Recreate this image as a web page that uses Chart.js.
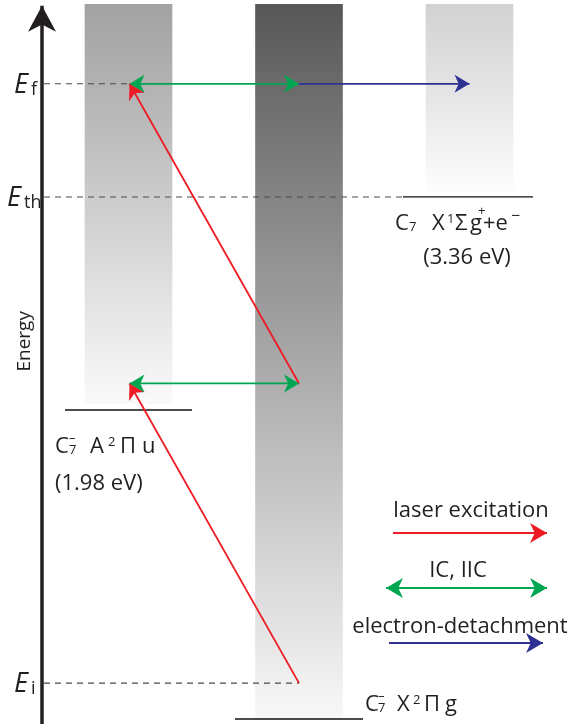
<!DOCTYPE html>
<html lang="en">
<head>
<meta charset="UTF-8">
<title>C7- energy level diagram</title>
<script src="https://cdn.jsdelivr.net/npm/chart.js@4.4.0/dist/chart.umd.min.js"></script>
<style>
  html, body { margin: 0; padding: 0; background: #fff; }
</style>
</head>
<body>
<canvas id="myChart" width="570" height="724"></canvas>
<script>
// energies in eV (levels drawn roughly to scale)
const stateNames = ['X2Pg', 'A2Pu', 'neutral'];
const stateEnergies = [0, 1.98, 3.345];
const stateEvLabels = ['', '(1.98 eV)', '(3.36 eV)'];

// shaded columns: top / bottom energy of each
const columnTop = [4.58, 4.58, 4.58];
const columnBottom = [2.02, -0.005, 3.38];

// marked energies on the axis
const markNames = ['i', 'th', 'f'];
const markEnergies = [0.23, 3.345, 4.07];

// transitions (energies in eV)
const laserFrom = [0.23, 2.15];
const laserTo = [2.15, 4.07];
const icEnergies = [2.15, 4.07];
const detachEnergies = [4.07];

const legendLabels = ['laser excitation', 'IC, IIC', 'electron-detachment'];

// layout (x in canvas-like units)
const colX = { A: 128.5, X: 299, N: 469.5 };
const axisX = 42;
const RED = '#ed1c24', GREEN = '#00a651', BLUE = '#2e3192';
const FONT = '"Open Sans", "Noto Sans", sans-serif';

const colStops = [
  [[0, '#a2a2a2'], [0.2, '#b2b2b2'], [0.5, '#cdcdcd'], [0.8, '#e8e8e8'], [1, '#fafafa']],
  [[0, '#575757'], [0.12, '#6c6c6c'], [0.42, '#9c9c9c'], [0.7, '#c9c9c9'], [1, '#f8f8f8']],
  [[0, '#d2d2d2'], [0.5, '#e6e6e6'], [1, '#fdfdfd']]
];
const colOrder = ['A', 'X', 'N'];

function columnGradient(c) {
  const chart = c.chart;
  const i = c.dataIndex;
  if (!chart.chartArea || i === undefined) return '#ccc';
  const y = chart.scales.y;
  const g = chart.ctx.createLinearGradient(0, y.getPixelForValue(columnTop[i]), 0, y.getPixelForValue(columnBottom[i]));
  colStops[i].forEach(s => g.addColorStop(s[0], s[1]));
  return g;
}

function seg(x1, e1, x2, e2, color, width, extra) {
  return Object.assign({
    type: 'line',
    data: [{ x: x1, y: e1 }, { x: x2, y: e2 }],
    borderColor: color,
    borderWidth: width,
    pointRadius: 0,
    fill: false,
    tension: 0,
    order: 1
  }, extra || {});
}

const datasets = [];
datasets.push({
  type: 'bar',
  data: colOrder.map((k, i) => ({ x: colX[k], y: [columnBottom[i], columnTop[i]] })),
  backgroundColor: columnGradient,
  borderWidth: 0,
  barThickness: 87,
  order: 10
});

// dashed marker lines from the axis
const dashEnds = [colX.X, 403, colX.A];
markEnergies.forEach((e, i) => {
  datasets.push(seg(axisX + 2, e, dashEnds[i], e, '#4a4a4a', 1.1, { borderDash: [6, 5], order: 5 }));
});

// level lines
const levelSpan = [[235, 363], [65, 192], [403, 533]];
stateEnergies.forEach((e, i) => {
  datasets.push(seg(levelSpan[i][0], e, levelSpan[i][1], e, '#111', 1.3, { order: 5 }));
});

// energy axis
datasets.push(seg(axisX, -0.04, axisX, 4.57, '#231f20', 3.5, { arrow: 'end', head: [26, 14], order: 2 }));

// transitions
laserFrom.forEach((e, i) => {
  datasets.push(seg(colX.X, e, colX.A + 1, laserTo[i], RED, 1.8, { arrow: 'end' }));
});
icEnergies.forEach(e => {
  datasets.push(seg(colX.A + 1, e, colX.X, e, GREEN, 1.8, { arrow: 'both' }));
});
detachEnergies.forEach(e => {
  datasets.push(seg(colX.X, e, colX.N, e, BLUE, 1.8, { arrow: 'end' }));
});

function drawHead(ctx, tx, ty, fx, fy, len, hw, color) {
  const a = Math.atan2(ty - fy, tx - fx);
  ctx.save();
  ctx.translate(tx, ty);
  ctx.rotate(a);
  ctx.fillStyle = color;
  ctx.beginPath();
  ctx.moveTo(0, 0);
  ctx.lineTo(-len, -hw);
  ctx.lineTo(-len * 0.72, 0);
  ctx.lineTo(-len, hw);
  ctx.closePath();
  ctx.fill();
  ctx.restore();
}

function arrowLine(ctx, x1, y1, x2, y2, color, both) {
  ctx.save();
  ctx.strokeStyle = color;
  ctx.lineWidth = 1.8;
  ctx.beginPath();
  ctx.moveTo(x1, y1);
  ctx.lineTo(x2, y2);
  ctx.stroke();
  ctx.restore();
  drawHead(ctx, x2, y2, x1, y1, 17, 10, color);
  if (both) drawHead(ctx, x1, y1, x2, y2, 17, 10, color);
}

// text pieces placed from a start point; piece: [text, size, dx, dy, italic]
function pieces(ctx, x, y, parts) {
  parts.forEach(p => {
    ctx.font = (p[4] ? 'italic ' : '') + p[1] + 'px ' + FONT;
    ctx.fillText(p[0], x + p[2], y + (p[3] || 0));
  });
}

const arrowPlugin = {
  id: 'arrows',
  afterDatasetsDraw(chart) {
    const ctx = chart.ctx;
    chart.data.datasets.forEach((ds, i) => {
      if (!ds.arrow) return;
      const pts = chart.getDatasetMeta(i).data;
      const a = pts[0], b = pts[1];
      const h = ds.head || [15, 9];
      drawHead(ctx, b.x, b.y, a.x, a.y, h[0], h[1], ds.borderColor);
      if (ds.arrow === 'both') drawHead(ctx, a.x, a.y, b.x, b.y, h[0], h[1], ds.borderColor);
    });
  },
  afterDraw(chart) {
    const ctx = chart.ctx;
    const xs = chart.scales.x, ys = chart.scales.y;
    const px = v => xs.getPixelForValue(v);
    const py = v => ys.getPixelForValue(v);
    ctx.save();
    ctx.fillStyle = '#231f20';
    ctx.textBaseline = 'alphabetic';

    // axis title
    ctx.save();
    ctx.translate(px(30), py(2.42));
    ctx.rotate(-Math.PI / 2);
    ctx.textAlign = 'center';
    ctx.font = '19px ' + FONT;
    ctx.fillText('Energy', 0, 0);
    ctx.restore();

    // E marks
    const markX = [14, 7, 14];
    markEnergies.forEach((e, i) => {
      pieces(ctx, px(markX[i]), py(e) + 9, [['E', 27, 0, 0, true], [markNames[i], 18, 17, 2]]);
    });

    const minus = '\u2013';
    // ground state
    pieces(ctx, px(365), py(stateEnergies[0]) - 8, [
      ['C', 22, 0], [minus, 13, 13, -11], ['7', 13, 13, 1], ['X', 22, 32], ['2', 13, 48, -7], ['\u03a0', 22, 59], ['g', 22, 80]
    ]);
    // excited anion
    pieces(ctx, px(55), py(stateEnergies[1]) + 43, [
      ['C', 22, 0], [minus, 13, 14, -11], ['7', 13, 14, 1], ['A', 22, 35], ['2', 13, 53, -7], ['\u03a0', 22, 65], ['u', 22, 87]
    ]);
    pieces(ctx, px(55), py(stateEnergies[1]) + 80, [[stateEvLabels[1], 22, 0]]);
    // neutral + electron
    pieces(ctx, px(395), py(stateEnergies[2]) + 33, [
      ['C', 22, 0], ['7', 13, 14, 1], ['X', 22, 37], ['1', 13, 52, -7], ['\u03a3', 22, 60], ['g', 22, 75],
      ['+', 13, 83, -15], ['+e', 22, 88], ['\u2212', 16, 116, -9]
    ]);
    ctx.textAlign = 'center';
    ctx.font = '22px ' + FONT;
    ctx.fillText(stateEvLabels[2], px(467), py(stateEnergies[2]) + 67);

    // legend
    ctx.fillText(legendLabels[0], 471, 517);
    ctx.fillText(legendLabels[1], 458, 577);
    ctx.fillText(legendLabels[2], 460, 633);
    ctx.restore();
    arrowLine(ctx, 393, 533, 547, 533, RED, false);
    arrowLine(ctx, 386, 588, 547, 588, GREEN, true);
    arrowLine(ctx, 389, 643, 543, 643, BLUE, false);
  }
};

const ctx = document.getElementById('myChart').getContext('2d');
new Chart(ctx, {
  type: 'line',
  data: { datasets: datasets },
  options: {
    responsive: false,
    animation: false,
    layout: { padding: 0 },
    plugins: { legend: { display: false }, tooltip: { enabled: false } },
    scales: {
      x: { type: 'linear', min: 0, max: 570, offset: false, display: false },
      y: { type: 'linear', min: -0.032, max: 4.607, display: false }
    }
  },
  plugins: [arrowPlugin]
});
</script>
</body>
</html>
